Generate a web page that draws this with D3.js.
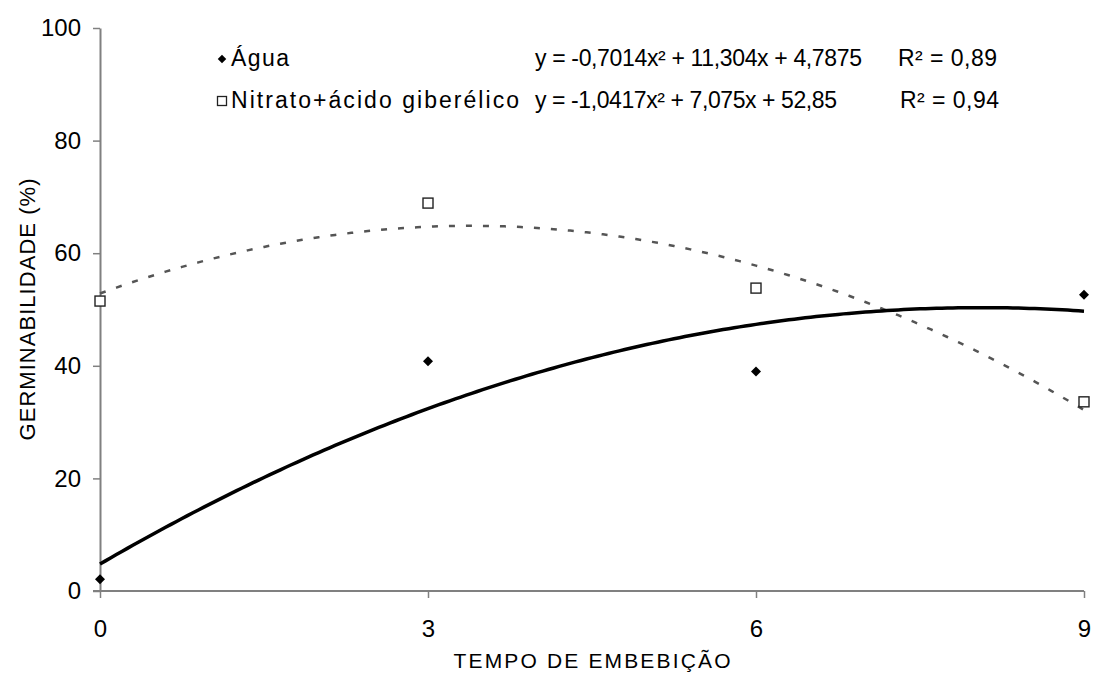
<!DOCTYPE html>
<html>
<head>
<meta charset="utf-8">
<script src="https://cdn.jsdelivr.net/npm/d3@7"></script>
<style>
  body { margin: 0; background: #fff; }
  text { font-family: "Liberation Sans", Arial, sans-serif; fill: #000; }
</style>
</head>
<body>
<script>
"use strict";

// data
var tempos = [0, 3, 6, 9];
var agua = [2.1, 40.8, 39.0, 52.6];
var nitrato = [51.5, 68.9, 53.8, 33.6];
var yTicks = [0, 20, 40, 60, 80, 100];
var xTicks = [0, 3, 6, 9];

// trendline coefficients as printed in the legend (a x^2 + b x + c)
var coefAgua = [-0.7014, 11.304, 4.7875];
var coefNitrato = [-1.0417, 7.075, 52.85];

var W = 1093, H = 675;
var margin = {top: 28, right: 9, bottom: 84, left: 100},
    width = W - margin.left - margin.right,
    height = H - margin.top - margin.bottom;

var svg = d3.select("body").append("svg")
    .attr("width", W)
    .attr("height", H);
var view = svg.append("g")
    .attr("transform", "translate(" + margin.left + "," + margin.top + ")");

var xScale = d3.scaleLinear().domain([0, 9]).range([0, width]);
var yScale = d3.scaleLinear().domain([0, 100]).range([height, 0]);

var axisColor = "#808080";
var font = "'Liberation Sans', Arial, sans-serif";

// axes
var xAxis = d3.axisBottom(xScale).tickValues(xTicks).tickSize(7).tickSizeOuter(0).tickPadding(22);
var yAxis = d3.axisLeft(yScale).tickValues(yTicks).tickSize(7).tickSizeOuter(0).tickPadding(12);

var gX = view.append("g").attr("transform", "translate(0," + height + ")").call(xAxis);
var gY = view.append("g").call(yAxis);
[gX, gY].forEach(function(g){
  g.select(".domain").attr("stroke", axisColor).attr("stroke-width", 2);
  g.selectAll(".tick line").attr("stroke", axisColor).attr("stroke-width", 1.5);
  g.selectAll(".tick text")
    .style("font-family", font)
    .style("font-size", "24px").attr("fill", "#000");
});
// x axis line starts a tick-length left of the y axis, like the reference
gX.select(".domain").attr("d", "M-7,0H" + width);

// axis titles
svg.append("text")
    .attr("x", margin.left + width / 2)
    .attr("y", 668)
    .attr("text-anchor", "middle")
    .attr("textLength", 277)
    .attr("lengthAdjust", "spacing")
    .style("font-size", "21px")
    .text("TEMPO DE EMBEBIÇÃO");
svg.append("text")
    .attr("transform", "translate(35," + (margin.top + height / 2) + ") rotate(-90)")
    .attr("text-anchor", "middle")
    .attr("textLength", 262)
    .attr("lengthAdjust", "spacing")
    .style("font-size", "22px")
    .text("GERMINABILIDADE (%)");

// trendlines
function curvePoints(c){
  return d3.range(0, 9.001, 0.05).map(function(x){
    return {x: x, y: c[0] * x * x + c[1] * x + c[2]};
  });
}
var line = d3.line()
    .x(function(d){ return xScale(d.x); })
    .y(function(d){ return yScale(d.y); });

view.append("path")
    .datum(curvePoints(coefNitrato))
    .attr("fill", "none")
    .attr("stroke", "#555")
    .attr("stroke-width", 2.5)
    .attr("stroke-dasharray", "6,11")
    .attr("d", line);

view.append("path")
    .datum(curvePoints(coefAgua))
    .attr("fill", "none")
    .attr("stroke", "#000")
    .attr("stroke-width", 3.5)
    .attr("d", line);

// markers
view.selectAll(".agua").data(tempos).enter()
  .append("path")
    .attr("class", "agua")
    .attr("d", d3.symbol().type(d3.symbolSquare).size(50))
    .attr("transform", function(d, i){ return "translate(" + xScale(d) + "," + yScale(agua[i]) + ") rotate(45)"; })
    .attr("fill", "#000");

view.selectAll(".nitrato").data(tempos).enter()
  .append("rect")
    .attr("class", "nitrato")
    .attr("x", function(d){ return xScale(d) - 5; })
    .attr("y", function(d, i){ return yScale(nitrato[i]) - 5; })
    .attr("width", 10).attr("height", 10)
    .attr("fill", "#fff")
    .attr("stroke", "#222")
    .attr("stroke-width", 1.4);

// legend
var legendRows = [
  {name: "Água", nameLen: 58, eq: "y = -0,7014x² + 11,304x + 4,7875", eqLen: 327, r2: "R² = 0,89", r2x: 898, type: "diamond"},
  {name: "Nitrato+ácido giberélico", nameLen: 288, eq: "y = -1,0417x² + 7,075x + 52,85", eqLen: 302, r2: "R² = 0,94", r2x: 900, type: "square"}
];
var legend = svg.append("g");
legendRows.forEach(function(r, i){
  var base = 66 + i * 42;
  var my = base - 7;
  if (r.type === "diamond") {
    legend.append("path")
      .attr("d", d3.symbol().type(d3.symbolSquare).size(36))
      .attr("transform", "translate(222," + my + ") rotate(45)")
      .attr("fill", "#000");
  } else {
    legend.append("rect")
      .attr("x", 217.5).attr("y", my - 4.5).attr("width", 9).attr("height", 9)
      .attr("fill", "#fff").attr("stroke", "#222").attr("stroke-width", 1.3);
  }
  legend.append("text").attr("x", 231).attr("y", base)
    .attr("textLength", r.nameLen).attr("lengthAdjust", "spacing")
    .style("font-size", "23px").text(r.name);
  legend.append("text").attr("x", 535).attr("y", base)
    .attr("textLength", r.eqLen).attr("lengthAdjust", "spacing")
    .style("font-size", "23px").text(r.eq);
  legend.append("text").attr("x", r.r2x).attr("y", base)
    .attr("textLength", 99).attr("lengthAdjust", "spacing")
    .style("font-size", "23px").text(r.r2);
});
</script>
</body>
</html>
